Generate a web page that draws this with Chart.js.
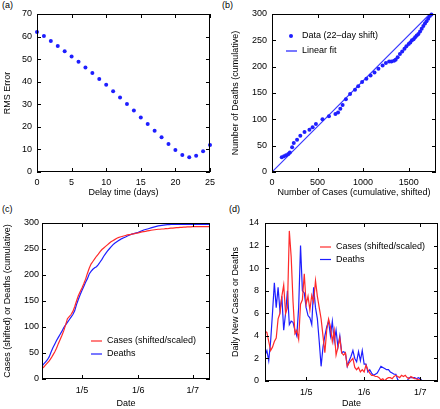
<!DOCTYPE html>
<html>
<head>
<meta charset="utf-8">
<script src="https://cdn.jsdelivr.net/npm/chart.js@4/dist/chart.umd.min.js"></script>
<style>
  body { margin: 0; background: #fff; width: 440px; height: 409px; overflow: hidden; position: relative; }
  canvas { position: absolute; }
  .lbl { position: absolute; font: 9px "Liberation Sans", Arial, sans-serif; color: #000; }
</style>
</head>
<body>
<div class="lbl" style="left:2px;top:0px">(a)</div>
<div class="lbl" style="left:222px;top:0px">(b)</div>
<div class="lbl" style="left:2px;top:204px">(c)</div>
<div class="lbl" style="left:229px;top:204px">(d)</div>
<canvas id="pa" width="220" height="205" style="left:0;top:0"></canvas>
<canvas id="pb" width="220" height="205" style="left:220px;top:0"></canvas>
<canvas id="pc" width="220" height="204" style="left:0;top:205px"></canvas>
<canvas id="pd" width="220" height="204" style="left:220px;top:205px"></canvas>
<script>
// (a) RMS error vs delay
var delayDays = [0, 1, 2, 3, 4, 5, 6, 7, 8, 9, 10, 11, 12, 13, 14, 15, 16, 17, 18, 19, 20, 21, 22, 23, 24, 25];
var rmsError = [62, 60.2, 58, 55.8, 53.5, 51.2, 48.8, 46.3, 43.9, 41.2, 38.6, 35.8, 33, 30.1, 27.2, 24.2, 21.3, 18.3, 15.4, 12.4, 9.7, 7.5, 6.5, 7.2, 9.2, 12];

// (b) deaths vs shifted cases
var scatterCases = [107, 132, 154, 179, 196, 221, 239, 275, 311, 357, 411, 446, 482, 554, 625, 696, 725, 750, 775, 811, 857, 911, 946, 989, 1036, 1082, 1125, 1168, 1214, 1250, 1286, 1311, 1339, 1357, 1379, 1404, 1429, 1454, 1475, 1500, 1518, 1536, 1554, 1571, 1589, 1607, 1625, 1643, 1661, 1679, 1696, 1714, 1732, 1750];
var scatterDeaths = [28, 30, 32, 34, 37, 47, 55, 61, 69, 76, 80, 85, 91, 100, 106, 110, 113, 120, 127, 138, 148, 156, 163, 171, 177, 183, 189, 196, 202, 207, 210, 210, 211, 213, 218, 224, 229, 234, 239, 243, 246, 250, 252, 256, 259, 262, 267, 272, 277, 282, 286, 291, 296, 299];
var fitCases = [0, 1732];
var fitDeaths = [0, 300];

// (c),(d) days counted from 1 April
var days = [8, 9, 10, 11, 12, 13, 14, 15, 16, 17, 18, 19, 20, 21, 22, 23, 24, 25, 26, 27,
  28, 29, 30, 31, 32, 33, 34, 35, 36, 37, 38, 39, 40, 41, 42, 43, 44, 45, 46, 47,
  48, 49, 50, 51, 52, 53, 54, 55, 56, 57, 58, 59, 60, 61, 62, 63, 64, 65, 66, 67,
  68, 69, 70, 71, 72, 73, 74, 75, 76, 77, 78, 79, 80, 81, 82, 83, 84, 85, 86, 87,
  88, 89, 90, 91, 92, 93, 94, 95, 96, 97, 98, 99, 100];
var dateTickDays = [30, 61, 91];
var dateTickLabels = ["1/5", "1/6", "1/7"];

var casesCum = [20, 23, 27, 31, 35, 40, 46, 52, 59, 68,
  76, 84, 93, 104, 116, 120, 124, 130, 139, 150,
  160, 168, 175, 183, 192, 203, 213, 221, 226, 231,
  236, 240, 245, 249, 252, 255, 258, 261, 264, 266,
  268, 270, 272, 273, 274, 275, 276, 277, 277.5, 278,
  279, 279.5, 280.5, 281, 282, 283, 283.5, 284, 285, 285.5,
  286, 286.5, 287, 287.5, 288, 288, 288.5, 288.5, 289, 289,
  289.5, 290, 290, 290.5, 291, 291, 291.5, 291.5, 292, 292,
  292.5, 292.5, 292.5, 293, 293, 293, 293, 293, 293, 293,
  293, 293, 293];
var deathsCum = [25, 29, 33, 37, 43, 52, 60, 67, 74, 80,
  86, 92, 99, 104, 109, 114, 119, 124, 131, 143,
  153, 162, 170, 178, 186, 193, 202, 207, 211, 214,
  216, 220, 225, 230, 236, 241, 246, 250, 254, 258,
  261, 263.5, 266, 268, 270, 271.5, 273, 275, 276.5, 278,
  279, 280, 281, 282, 283.5, 285, 286.5, 287.5, 288.5, 289.5,
  290.5, 291.5, 292.5, 293.5, 294.5, 295, 295.5, 296, 296.5, 297,
  297, 297.5, 297.5, 297.5, 297.5, 297.5, 297.5, 297.5, 297.5, 297.5,
  297.5, 297.5, 297.5, 297.5, 297.5, 297.5, 297.5, 297.5, 297.5, 297.5,
  297.5, 297.5, 297.5];
var casesDaily = [4.4, 4.3, 3.5, 2.7, 3.0, 3.5, 3.8, 5.5, 6.0, 7.5,
  8.5, 6.0, 6.5, 13.3, 11.0, 7.0, 4.2, 4.5, 3.7, 6.8,
  7.2, 9.5, 6.8, 7.5, 6.3, 7.6, 7.0, 8.9, 7.5, 6.5,
  5.5, 4.0, 2.5, 4.5, 5.5, 4.8, 3.5, 4.5, 2.3, 3.0,
  3.8, 2.5, 2.3, 2.5, 1.3, 1.6, 1.8, 2.0, 1.2, 1.0,
  1.2, 0.8, 1.0, 0.8, 1.4, 1.0, 0.7, 0.5, 0.5, 0.4,
  0.4, 0.3, 0.1, 0.2, 0.0, 0.2, 0.3, 0.3, 0.2, 0.4,
  0.5, 0.4, 0.3, 0.5, 0.4, 0.5, 0.3, 0.2, 0.4, 0.3,
  0.2, 0.2, 0.1, 0.1, 0, 0, 0, 0, 0, 0,
  0, 0, 0];
var deathsDaily = [2.3, 2.7, 1.8, 3.5, 6.0, 8.7, 6.5, 8.3, 6.2, 7.5,
  4.5, 6.0, 8.0, 5.0, 5.3, 5.2, 4.5, 4.0, 6.5, 12.0,
  8.0, 7.8, 6.5, 5.8, 5.6, 5.0, 8.3, 6.5, 5.5, 3.5,
  1.3, 3.0, 4.0, 4.8, 5.3, 4.0, 5.3, 3.5, 4.5, 3.0,
  4.0, 2.5, 2.6, 2.5, 1.3, 1.8, 2.2, 2.7, 2.0, 1.7,
  2.6, 1.8, 2.7, 1.5, 1.5, 0.8, 1.0, 0.7, 0.5, 0.6,
  0.7, 1.0, 1.3, 1.2, 1.1, 1.0, 1.0, 0.8, 0.7, 0.6,
  0.6, 0.1, 0, 0, 0, 0, 0, 0.3, 0.3, 0.3,
  0.3, 0.2, 0.3, 0.2, 0, 0, 0, 0, 0, 0,
  0, 0, 0];

var RED = "#ff2a2a";
var BLUE = "#1e1eff";

Chart.defaults.font.family = '"Liberation Sans", Arial, sans-serif';
Chart.defaults.font.size = 9;
Chart.defaults.color = "#000";

function pts(xs, ys) {
  return xs.map(function (x, i) { return { x: x, y: ys[i] }; });
}

// frame box, inward ticks on all sides, and a legend inside the plot
var frameTicks = {
  id: "frameTicks",
  afterDraw: function (chart, args, opts) {
    var ctx = chart.ctx, a = chart.chartArea;
    var x = chart.scales.x, y = chart.scales.y;
    ctx.save();
    ctx.strokeStyle = "#000";
    ctx.lineWidth = 1;
    ctx.strokeRect(a.left + 0.5, a.top + 0.5, a.right - a.left - 1, a.bottom - a.top - 1);
    ctx.beginPath();
    x.ticks.forEach(function (t) {
      var px = Math.round(x.getPixelForValue(t.value)) + 0.5;
      ctx.moveTo(px, a.bottom); ctx.lineTo(px, a.bottom - 4);
      ctx.moveTo(px, a.top); ctx.lineTo(px, a.top + 4);
    });
    y.ticks.forEach(function (t) {
      var py = Math.round(y.getPixelForValue(t.value)) + 0.5;
      ctx.moveTo(a.left, py); ctx.lineTo(a.left + 4, py);
      ctx.moveTo(a.right, py); ctx.lineTo(a.right - 4, py);
    });
    ctx.stroke();

    if (opts.items) {
      ctx.font = '9px "Liberation Sans", Arial, sans-serif';
      ctx.textBaseline = "middle";
      opts.items.forEach(function (it, i) {
        var yy = opts.y + i * opts.gap;
        if (it.type === "dot") {
          ctx.fillStyle = it.color;
          ctx.beginPath();
          ctx.arc(opts.x + 5, yy, 2, 0, Math.PI * 2);
          ctx.fill();
        } else {
          ctx.strokeStyle = it.color;
          ctx.lineWidth = 1.2;
          ctx.beginPath();
          ctx.moveTo(opts.x, yy); ctx.lineTo(opts.x + 11, yy);
          ctx.stroke();
        }
        ctx.fillStyle = "#000";
        ctx.fillText(it.text, opts.textX, yy);
      });
    }
    ctx.restore();
  }
};

function axis(opts) {
  var o = {
    type: "linear",
    min: opts.min,
    max: opts.max,
    grid: { display: false, drawTicks: false },
    border: { display: false },
    ticks: { stepSize: opts.step, padding: opts.pad, autoSkip: false, maxRotation: 0, font: { size: 9 } },
    title: { display: true, text: opts.title, font: { size: 9 }, padding: opts.tpad },
    afterFit: opts.fit
  };
  if (opts.tickValues) {
    o.afterBuildTicks = function (s) {
      s.ticks = opts.tickValues.map(function (v) { return { value: v }; });
    };
    o.ticks.callback = function (v) { return opts.tickLabels[opts.tickValues.indexOf(v)]; };
  }
  return o;
}

function base(pad, xs, ys, legend) {
  return {
    responsive: false,
    animation: false,
    devicePixelRatio: 1,
    layout: { padding: pad },
    plugins: { legend: { display: false }, tooltip: { enabled: false }, frameTicks: legend || {} },
    scales: { x: xs, y: ys }
  };
}

// (a)
new Chart(document.getElementById("pa"), {
  type: "scatter",
  data: { datasets: [{ data: pts(delayDays, rmsError), backgroundColor: BLUE, borderWidth: 0, pointRadius: 2, clip: false }] },
  options: base({ left: 0, right: 9, top: 14, bottom: 0 },
    axis({ min: 0, max: 25, step: 5, pad: 5, title: "Delay time (days)", tpad: { top: 0, bottom: 7 }, fit: function (s) { s.height = 33; } }),
    axis({ min: 0, max: 70, step: 10, pad: 5, title: "RMS Error", tpad: { top: 2, bottom: 0 }, fit: function (s) { s.width = 37; } })),
  plugins: [frameTicks]
});

// (b)
new Chart(document.getElementById("pb"), {
  type: "scatter",
  data: { datasets: [
    { data: pts(scatterCases, scatterDeaths), backgroundColor: BLUE, borderWidth: 0, pointRadius: 2, clip: false },
    { type: "line", data: pts(fitCases, fitDeaths), borderColor: "#3535ff", borderWidth: 1.1, pointRadius: 0, showLine: true }
  ] },
  options: base({ left: 0, right: 1, top: 14, bottom: 0 },
    axis({ min: 0, max: 1800, pad: 5, title: "Number of Cases (cumulative, shifted)", tpad: { top: 0, bottom: 7 },
      tickValues: [0, 500, 1000, 1500], tickLabels: ["0", "500", "1000", "1500"], fit: function (s) { s.height = 33; } }),
    axis({ min: 0, max: 300, step: 50, pad: 5, title: "Number of Deaths (cumulative)", tpad: { top: 10, bottom: 0 }, fit: function (s) { s.width = 52; } }),
    { items: [{ text: "Data (22\u2013day shift)", color: BLUE, type: "dot" }, { text: "Linear fit", color: BLUE, type: "line" }],
      x: 66, textX: 82, y: 36, gap: 15 }),
  plugins: [frameTicks]
});

// (c)
new Chart(document.getElementById("pc"), {
  type: "line",
  data: { datasets: [
    { data: pts(days, casesCum), borderColor: RED, borderWidth: 1.2, pointRadius: 0 },
    { data: pts(days, deathsCum), borderColor: BLUE, borderWidth: 1.2, pointRadius: 0 }
  ] },
  options: base({ left: 0, right: 10, top: 18, bottom: 0 },
    axis({ min: 8, max: 100.5, pad: 6, title: "Date", tpad: { top: 0, bottom: 0 },
      tickValues: dateTickDays, tickLabels: dateTickLabels, fit: function (s) { s.height = 30; } }),
    axis({ min: 0, max: 300, step: 50, pad: 3, title: "Cases (shifted) or Deaths (cumulative)", tpad: { top: 2, bottom: 0 }, fit: function (s) { s.width = 42; } }),
    { items: [{ text: "Cases (shifted/scaled)", color: RED, type: "line" }, { text: "Deaths", color: BLUE, type: "line" }],
      x: 91, textX: 107, y: 136, gap: 13 }),
  plugins: [frameTicks]
});

// (d)
new Chart(document.getElementById("pd"), {
  type: "line",
  data: { datasets: [
    { data: pts(days, casesDaily), borderColor: RED, borderWidth: 1.2, pointRadius: 0 },
    { data: pts(days, deathsDaily), borderColor: BLUE, borderWidth: 1.2, pointRadius: 0 }
  ] },
  options: base({ left: 0, right: 2, top: 18, bottom: 0 },
    axis({ min: 8, max: 100.5, pad: 6, title: "Date", tpad: { top: 0, bottom: 0 },
      tickValues: dateTickDays, tickLabels: dateTickLabels, fit: function (s) { s.height = 28; } }),
    axis({ min: 0, max: 14, step: 2, pad: 6, title: "Daily New Cases or Deaths", tpad: { top: 10, bottom: 0 }, fit: function (s) { s.width = 45; } }),
    { items: [{ text: "Cases (shifted/scaled)", color: RED, type: "line" }, { text: "Deaths", color: BLUE, type: "line" }],
      x: 100, textX: 116, y: 42, gap: 12.5 }),
  plugins: [frameTicks]
});
</script>
</body>
</html>
